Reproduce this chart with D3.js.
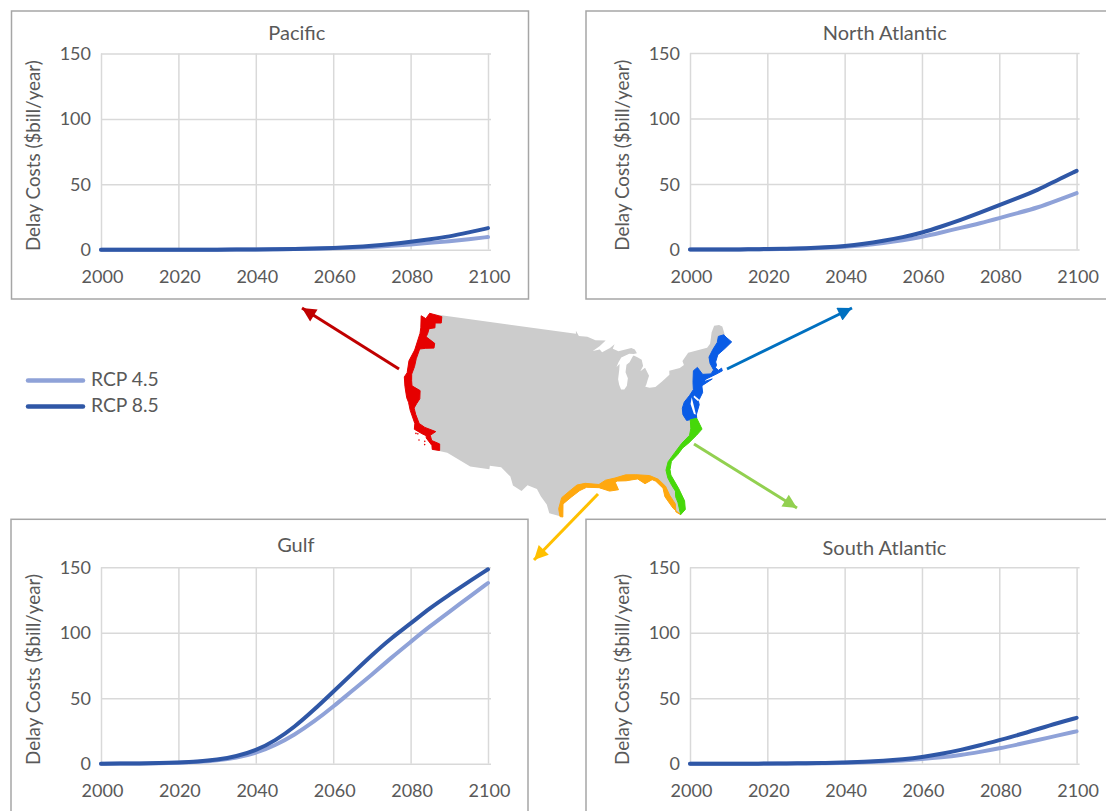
<!DOCTYPE html>
<html>
<head>
<meta charset="utf-8">
<script src="https://cdn.jsdelivr.net/npm/d3@7"></script>
<style>
  html, body { margin: 0; padding: 0; background: #fff; overflow: hidden; }
  text { font-family: Lato, "Open Sans", sans-serif; fill: #595959; }
  .grid line { stroke: #d9d9d9; stroke-width: 1.5; }
  .grid path { display: none; }
  .curve { fill: none; stroke-width: 4; stroke-linecap: round; stroke-linejoin: round; }
</style>
</head>
<body>
<svg id="chart" width="1106" height="811"></svg>
<script>
const years = [2000, 2005, 2010, 2015, 2020, 2025, 2030, 2035, 2040, 2045, 2050, 2055, 2060, 2065, 2070, 2075, 2080, 2085, 2090, 2095, 2100];
const xTicks = [2000, 2020, 2040, 2060, 2080, 2100];
const yTicks = [0, 50, 100, 150];
const yLabel = "Delay Costs ($bill/year)";
const seriesNames = ["RCP 4.5", "RCP 8.5"];
const seriesColors = ["#8fa2d8", "#2f57a6"];

const pacific45 = [0, 0, 0, 0, 0, 0, 0, 0.1, 0.15, 0.3, 0.45, 0.7, 1, 1.5, 2.1, 3, 4, 5.2, 6.5, 8, 9.7];
const pacific85 = [0, 0, 0, 0, 0, 0, 0, 0.1, 0.2, 0.35, 0.6, 0.9, 1.3, 2, 2.9, 4.3, 6, 8, 10, 13.2, 16.5];
const northAtlantic45 = [0, 0, 0.05, 0.1, 0.2, 0.4, 0.7, 1.2, 2, 3.2, 5, 7, 9.5, 13, 16.5, 20, 24, 28, 32, 37.5, 43];
const northAtlantic85 = [0, 0, 0.05, 0.1, 0.4, 0.6, 1, 1.6, 2.5, 4.2, 6.6, 9.3, 12.8, 17.5, 22.5, 28, 34, 39.5, 45.5, 53, 60];
const gulf45 = [0, 0.1, 0.2, 0.3, 0.7, 1.3, 2.5, 4.5, 8, 14, 22, 32, 43.5, 56, 68, 81, 93, 105, 116, 127, 138];
const gulf85 = [0, 0.1, 0.2, 0.4, 0.9, 1.6, 3, 5.5, 10, 17.5, 28, 41, 55, 69, 83, 96, 107, 119, 129, 139, 148.5];
const southAtlantic45 = [0, 0, 0, 0, 0.05, 0.1, 0.2, 0.4, 0.6, 1, 1.6, 2.4, 3.5, 4.8, 6.5, 9, 11.7, 14.8, 18, 21.5, 24.7];
const southAtlantic85 = [0, 0, 0, 0, 0.1, 0.2, 0.3, 0.5, 0.9, 1.4, 2.2, 3.4, 5, 7.5, 10.5, 14, 18, 22, 26.5, 31, 35];

// outlines as [longitude, latitude]
const landOutline = [[-124.7,48.38],[-123.2,48.15],[-122.8,49],[-95.15,49],[-95.15,49.38],[-94.6,48.7],[-93,48.6],[-91.5,48.1],[-89.6,48],[-90.8,47.3],[-92.1,46.75],[-90.8,46.9],[-90.4,46.55],[-88.9,47],[-88,47.45],[-88.4,46.9],[-87.4,46.5],[-85,46.75],[-84.4,46.5],[-84.1,46],[-84.7,45.95],[-85.5,46.05],[-86.5,45.8],[-87,45.7],[-87.6,45.1],[-88,44.55],[-87.4,44.9],[-87.55,44.2],[-87.9,43],[-87.8,42.3],[-87.55,41.7],[-87,41.65],[-86.5,42.1],[-86.2,43],[-86.5,43.8],[-86.2,44.7],[-85.6,45],[-85,45.6],[-84.75,45.78],[-84.1,45.5],[-83.4,45.1],[-83.3,44.3],[-83.9,43.7],[-83,44.05],[-82.5,43],[-82.9,42.4],[-83.15,42],[-83.4,41.7],[-82.7,41.5],[-81.7,41.5],[-80.5,42],[-79,42.7],[-78.9,43.2],[-77,43.3],[-76.2,43.55],[-76.3,44.1],[-75,44.95],[-71.5,45],[-70.8,45.4],[-70.3,46.2],[-70,46.7],[-69.2,47.45],[-68.3,47.35],[-67.8,47.05],[-67.8,45.7],[-67,44.85],[-68.5,44.3],[-70,43.8],[-70.7,43],[-70.7,42.6],[-71,42.3],[-70.6,41.9],[-70,42.05],[-70,41.7],[-71.2,41.5],[-72.9,41.25],[-73.7,40.95],[-72,41.05],[-73.9,40.55],[-74,40.4],[-74.1,39.7],[-74.9,38.95],[-75.5,39.5],[-75.1,38.7],[-75.1,38.3],[-75.9,37.15],[-76.2,38.9],[-76.4,39.2],[-76.5,38.4],[-76.3,37.9],[-76.3,37],[-75.95,36.7],[-75.5,35.25],[-76.5,34.65],[-77.9,33.9],[-79,33.4],[-79.9,32.7],[-81,32],[-81.4,31],[-81.4,30.3],[-80.6,28.5],[-80.05,26.8],[-80.15,25.7],[-80.9,25.15],[-81.8,26.1],[-82.7,27.7],[-82.8,28.8],[-83.7,29.8],[-84.2,30.05],[-85.3,29.65],[-86.3,30.35],[-88,30.25],[-89.3,30.3],[-89.6,30.15],[-89.2,29.2],[-90.5,29.1],[-92,29.6],[-93.8,29.7],[-94.8,29.3],[-96,28.5],[-97.2,27.6],[-97.2,25.95],[-99.1,26.4],[-99.5,27.5],[-100.4,28.5],[-101,29.4],[-102.4,29.8],[-103.2,29],[-104.5,29.6],[-105,30.7],[-106.5,31.75],[-108.2,31.78],[-108.2,31.33],[-111.07,31.33],[-114.8,32.5],[-117.12,32.53],[-117.3,33],[-118.4,33.75],[-118.5,34.03],[-119.2,34.15],[-120.5,34.45],[-120.65,35.15],[-121.9,36.6],[-122.5,37.5],[-123,38],[-123.8,39.3],[-124.35,40.4],[-124.1,41],[-124.4,42.5],[-124,44],[-123.95,46.2],[-124.1,46.9]];
const pacificCoast = [[-117.12,32.53],[-117.3,33],[-118.4,33.75],[-118.5,34.03],[-119.2,34.15],[-120.5,34.45],[-120.65,35.15],[-121.9,36.6],[-122.5,37.5],[-123,38],[-123.8,39.3],[-124.35,40.4],[-124.1,41],[-124.4,42.5],[-124,44],[-123.95,46.2],[-124.1,46.9],[-124.7,48.38],[-123.7,48.2],[-123.3,49],[-120.9,49],[-120.7,48.2],[-121.8,48],[-121.6,47.4],[-122.6,47.1],[-122.6,46.5],[-122.7,46],[-120.9,45.5],[-120.8,44.9],[-122.2,44.6],[-123.2,44.3],[-123.3,43],[-123.2,42],[-123.3,41],[-123,40.2],[-122.7,39.6],[-121.2,39.3],[-120.9,38.3],[-121.2,37.6],[-121.4,37],[-120.9,36.3],[-120,35.3],[-119,35],[-117.2,34.8],[-117.9,34.2],[-117.5,33.6],[-116.2,33.4],[-116,32.6]];
const northAtlanticCoast = [[-67,44.85],[-68.5,44.3],[-70,43.8],[-70.7,43],[-70.7,42.6],[-71,42.3],[-70.6,41.9],[-70,42.05],[-70,41.7],[-71.2,41.5],[-72.9,41.25],[-73.7,40.95],[-72,41.05],[-73.9,40.55],[-74,40.4],[-74.1,39.7],[-74.9,38.95],[-75.5,39.5],[-75.1,38.7],[-75.1,38.3],[-75.9,37.15],[-75.95,36.7],[-77.6,36.7],[-78,37.5],[-77.9,38.3],[-77.4,39],[-76.3,39.7],[-75.5,40.3],[-75.3,41.2],[-74.8,42.6],[-74,42.9],[-73.4,41.9],[-72,41.7],[-71.4,42.1],[-71.7,43],[-71.6,43.8],[-70.6,44.6],[-69.5,45.3],[-69,46],[-68,46],[-67.6,45.5]];
const southAtlanticCoast = [[-75.95,36.7],[-75.5,35.25],[-76.5,34.65],[-77.9,33.9],[-79,33.4],[-79.9,32.7],[-81,32],[-81.4,31],[-81.4,30.3],[-80.6,28.5],[-80.05,26.8],[-80.15,25.7],[-80.9,25.15],[-81,26.7],[-81.2,27.5],[-81.1,28.2],[-81.5,29],[-81.9,30],[-82,31],[-81.5,32],[-80.3,33],[-79,34],[-77.6,34.8],[-77.2,35.6],[-77,36.7]];
const gulfCoast = [[-97.2,25.95],[-97.2,27.6],[-96,28.5],[-94.8,29.3],[-93.8,29.7],[-92,29.6],[-90.5,29.1],[-89.2,29.2],[-89.6,30.15],[-89.3,30.3],[-88,30.25],[-86.3,30.35],[-85.3,29.65],[-84.2,30.05],[-83.7,29.8],[-82.8,28.8],[-82.7,27.7],[-81.8,26.1],[-80.9,25.15],[-81.5,25.6],[-81.4,26.6],[-82,27.8],[-82.4,29],[-83.3,30],[-84.5,30.6],[-86.5,30.9],[-88,31],[-89.6,30.7],[-91,30.5],[-92,30],[-94,30.2],[-95.2,30],[-96.2,29.3],[-97.4,28.4],[-97.8,27],[-97.6,26]];
const bays = [[[-76.05,39.4],[-76.45,38.6],[-76.25,37.3],[-75.95,37.2],[-76,38.5]],[[-75.55,39.55],[-75,38.95],[-75.2,38.8],[-75.75,39.4]]];
const channelIslands = [[-120.1,34],[-119.8,34],[-119.4,33.3],[-118.5,33.3],[-118.4,32.9]];

const svg = d3.select("#chart");

const defs = svg.append("defs");
const arrows = [
  { color: "#c00000", from: [399, 369], to: [302, 308] },
  { color: "#0070c0", from: [727, 369], to: [852, 308] },
  { color: "#92d050", from: [694, 444], to: [797, 508] },
  { color: "#ffc000", from: [598, 494], to: [534, 560] },
];
arrows.forEach((a, i) => {
  defs.append("marker")
    .attr("id", `head-${i}`)
    .attr("viewBox", "0 0 10 10")
    .attr("refX", 10)
    .attr("refY", 5)
    .attr("markerWidth", 16)
    .attr("markerHeight", 14)
    .attr("markerUnits", "userSpaceOnUse")
    .attr("orient", "auto")
    .append("path")
    .attr("d", "M 0 0 L 10 5 L 0 10 z")
    .attr("fill", a.color);
});

function drawPanel(panel) {
  const x = d3.scaleLinear().domain([2000, 2100]).range(panel.xRange);
  const y = d3.scaleLinear().domain([0, 150]).range(panel.yRange);

  svg.append("rect")
    .attr("x", panel.frame[0])
    .attr("y", panel.frame[1])
    .attr("width", panel.frame[2])
    .attr("height", panel.frame[3])
    .attr("fill", "#fff")
    .attr("stroke", "#a6a6a6")
    .attr("stroke-width", 1.5);

  svg.append("g")
    .attr("class", "grid")
    .attr("transform", `translate(0,${panel.yRange[0]})`)
    .call(d3.axisBottom(x).tickValues(xTicks).tickSize(panel.yRange[1] - panel.yRange[0]).tickFormat(""));

  svg.append("g")
    .attr("class", "grid")
    .attr("transform", `translate(${panel.xRange[0]},0)`)
    .call(d3.axisRight(y).tickValues(yTicks).tickSize(panel.xRange[1] - panel.xRange[0] + 3).tickFormat(""));

  const g = svg.append("g").attr("font-size", 18);
  g.selectAll(".x-label")
    .data(xTicks)
    .join("text")
    .attr("x", (d) => x(d) + 1.5)
    .attr("y", panel.yRange[0] + 33.5)
    .attr("text-anchor", "middle")
    .text((d) => d);
  g.selectAll(".y-label")
    .data(yTicks)
    .join("text")
    .attr("x", panel.xRange[0] - 10)
    .attr("y", (d) => y(d) + 6.5)
    .attr("text-anchor", "end")
    .text((d) => d);

  g.append("text")
    .attr("transform", `translate(${panel.xRange[0] - 61},${(panel.yRange[0] + panel.yRange[1]) / 2 + 4}) rotate(-90)`)
    .attr("text-anchor", "middle")
    .attr("font-size", 18.8)
    .text(yLabel);

  g.append("text")
    .attr("x", panel.titleX)
    .attr("y", panel.titleY)
    .attr("text-anchor", "middle")
    .attr("font-size", 20)
    .text(panel.title);

  const line = d3.line()
    .x((d, i) => x(years[i]))
    .y((d) => y(d))
    .curve(d3.curveBasis);

  panel.series.forEach((values, i) => {
    svg.append("path")
      .attr("class", "curve")
      .attr("stroke", seriesColors[i])
      .attr("d", line(values));
  });
}

const panels = [
  { title: "Pacific", titleX: 296.8, titleY: 40, frame: [11.5, 11, 517, 288], xRange: [101, 488], yRange: [249.7, 53.5], series: [pacific45, pacific85] },
  { title: "North Atlantic", titleX: 884.7, titleY: 39.5, frame: [586, 11, 530, 288], xRange: [690, 1076.6], yRange: [249.5, 53], series: [northAtlantic45, northAtlantic85] },
  { title: "Gulf", titleX: 295.8, titleY: 552, frame: [11, 519.3, 517, 310], xRange: [101, 488], yRange: [763.7, 567.3], series: [gulf45, gulf85] },
  { title: "South Atlantic", titleX: 884.4, titleY: 554.5, frame: [586, 519.3, 530, 310], xRange: [690, 1076.6], yRange: [763.7, 567.3], series: [southAtlantic45, southAtlantic85] },
];
panels.forEach(drawPanel);

// map
const projection = d3.geoAlbers()
  .fitExtent([[403, 314], [733, 517]], { type: "MultiPoint", coordinates: landOutline });
const mapPath = (coords) => d3.line()(coords.map(projection)) + "Z";

const map = svg.append("g");
map.append("path").attr("d", mapPath(landOutline)).attr("fill", "#cccccc");
const regions = [
  { coords: pacificCoast, color: "#e60000" },
  { coords: northAtlanticCoast, color: "#0a5ce6" },
  { coords: gulfCoast, color: "#ffa80f" },
  { coords: southAtlanticCoast, color: "#46d80a" },
];
regions.forEach((r) => {
  map.append("path")
    .attr("d", mapPath(r.coords))
    .attr("fill", r.color)
    .attr("stroke", r.color)
    .attr("stroke-width", 1);
});
bays.forEach((b) => {
  map.append("path").attr("d", mapPath(b)).attr("fill", "#fff");
});
map.selectAll(".island")
  .data(channelIslands)
  .join("circle")
  .attr("cx", (d) => projection(d)[0])
  .attr("cy", (d) => projection(d)[1])
  .attr("r", 0.8)
  .attr("fill", "#e60000");

arrows.forEach((a, i) => {
  svg.append("line")
    .attr("x1", a.from[0])
    .attr("y1", a.from[1])
    .attr("x2", a.to[0])
    .attr("y2", a.to[1])
    .attr("stroke", a.color)
    .attr("stroke-width", 3)
    .attr("marker-end", `url(#head-${i})`);
});

// legend
const legend = svg.append("g");
seriesNames.forEach((name, i) => {
  const yPos = 380.5 + i * 26;
  legend.append("line")
    .attr("x1", 28)
    .attr("x2", 83)
    .attr("y1", yPos)
    .attr("y2", yPos)
    .attr("stroke", seriesColors[i])
    .attr("stroke-width", 4.5)
    .attr("stroke-linecap", "round");
  legend.append("text")
    .attr("x", 91)
    .attr("y", yPos + 5.5)
    .attr("font-size", 19.3)
    .text(name);
});
</script>
</body>
</html>
